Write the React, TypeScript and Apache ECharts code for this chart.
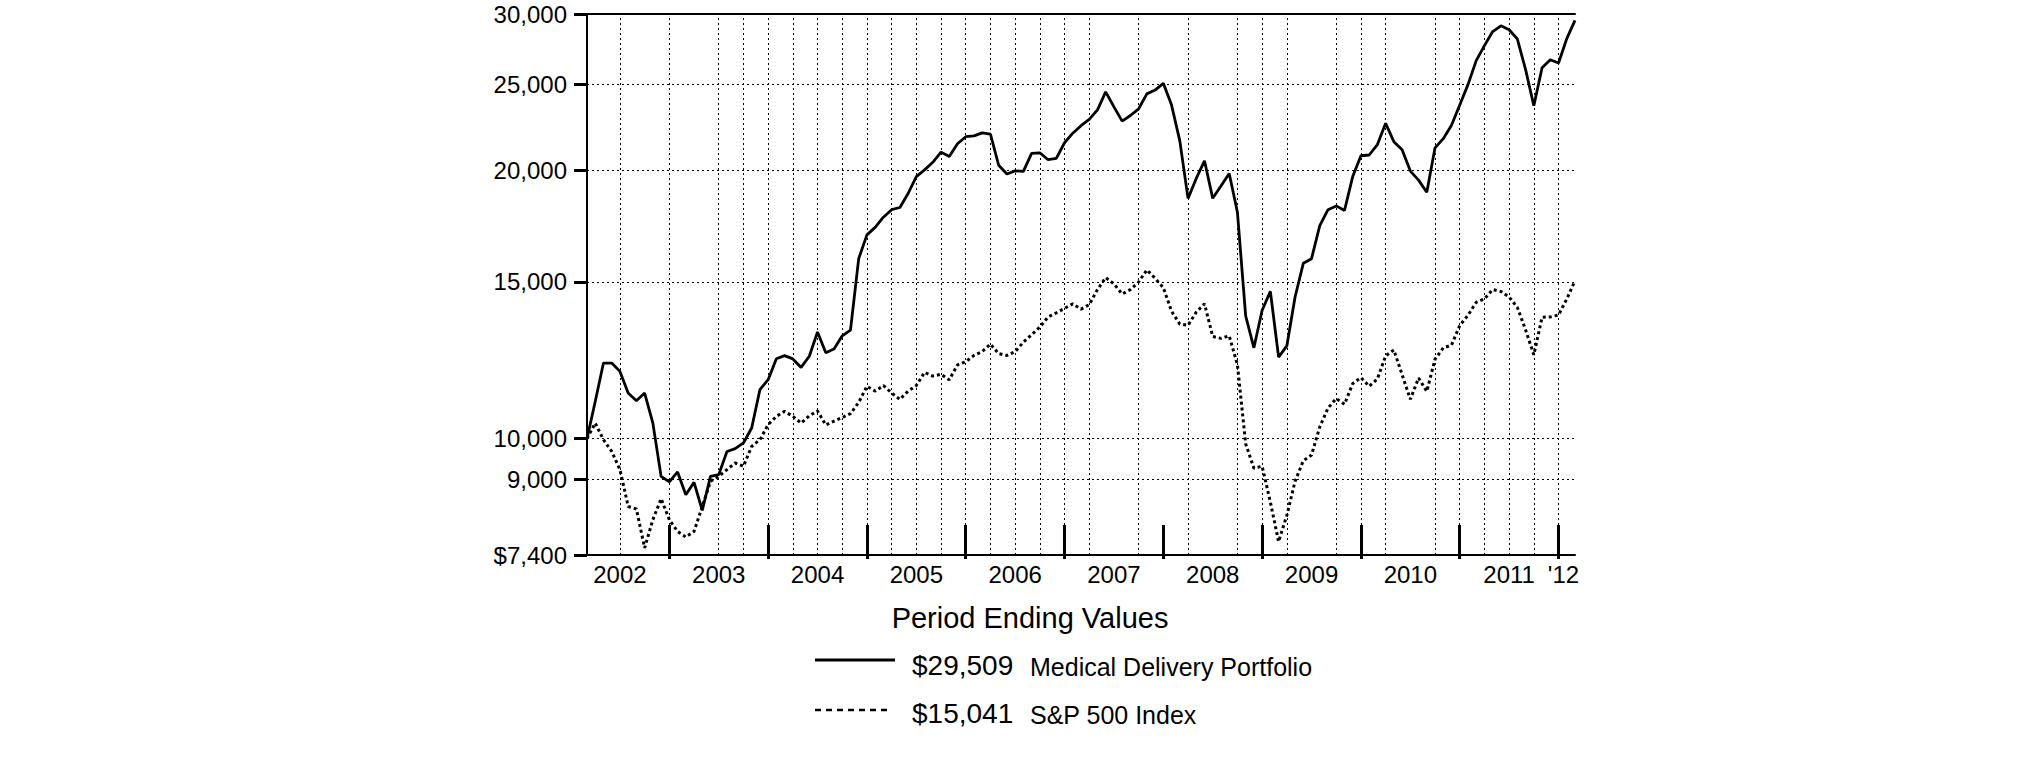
import React, { useEffect, useRef } from "react";
import * as echarts from "echarts";

// Month index 0 = Feb 2002 ... 120 = Feb 2012 (month-end values)
const portfolio = [
  10000, 11010, 12160, 12160, 11900, 11250, 11030, 11250, 10410, 9070,
  8940, 9175, 8650, 8930, 8306, 9070, 9110, 9673, 9743, 9888,
  10278, 11350, 11647, 12297, 12394, 12290, 12023, 12375, 13176, 12490,
  12612, 13048, 13243, 15930, 16940, 17272, 17735, 18080, 18185, 18855,
  19700, 20045, 20440, 20985, 20745, 21445, 21840, 21885, 22060, 21990,
  20285, 19832, 19990, 19970, 20922, 20950, 20577, 20650, 21500, 22040,
  22470, 22845, 23410, 24525, 23590, 22735, 23070, 23475, 24400, 24640,
  25075, 23700, 21605, 18620, 19605, 20520, 18620, 19225, 19855, 17960,
  13740, 12648, 13940, 14635, 12347, 12710, 14425, 15740, 15930, 17355,
  18080, 18260, 18045, 19700, 20790, 20830, 21400, 22610, 21560, 21110,
  19980, 19520, 18920, 21220, 21730, 22500, 23710, 24990, 26590, 27640,
  28670, 29100, 28800, 28120, 25980, 23660, 26110, 26650, 26430, 28150,
  29509,
];

const sp500 = [
  10000, 10410, 9972, 9673, 9230, 8390, 8335, 7537, 8108, 8560,
  8108, 7866, 7752, 7866, 8390, 8953, 9070, 9230, 9389, 9310,
  9800, 9972, 10368, 10593, 10730, 10593, 10410, 10610, 10740, 10358,
  10461, 10561, 10666, 10982, 11452, 11308, 11473, 11253, 11068, 11308,
  11473, 11870, 11757, 11810, 11643, 12103, 12200, 12400, 12525, 12770,
  12460, 12400, 12525, 12832, 13085, 13345, 13700, 13847, 14008, 14173,
  13980, 14144, 14705, 15170, 14920, 14537, 14705, 14997, 15473, 15142,
  14780, 13902, 13448, 13408, 13873, 14173, 13024, 12961, 13048, 12103,
  9867, 9264, 9309, 8486, 7660, 8200, 8953, 9445, 9584, 10308,
  10822, 11092, 10930, 11530, 11710, 11450, 11670, 12390, 12580, 11800,
  11070, 11700, 11300, 12280, 12645, 12735, 13400, 13760, 14230, 14355,
  14705, 14635, 14425, 14040, 13250, 12420, 13690, 13700, 13770, 14350,
  15041,
];

const seriesNames = ["Medical Delivery Portfolio", "S&P 500 Index"];

const yTickValues = [7400, 9000, 10000, 15000, 20000, 25000, 30000];
const yTickLabels = ["$7,400", "9,000", "10,000", "15,000", "20,000", "25,000", "30,000"];

const yearLabels = ["2002", "2003", "2004", "2005", "2006", "2007", "2008", "2009", "2010", "2011", "'12"];
const yearLabelMonths = [4, 16, 28, 40, 52, 64, 76, 88, 100, 112, 118.6];
const yearEndMonths = [10, 22, 34, 46, 58, 70, 82, 94, 106, 118];
const gridMonths = [
  4, 10, 16, 19, 22, 25, 28, 31, 34, 37, 40, 43, 46, 49, 52, 55, 58, 61, 67, 73,
  79, 82, 85, 91, 94, 97, 103, 106, 109, 112, 115, 118,
];

const FONT = "'Liberation Sans', Arial, Helvetica, sans-serif";

export default function App() {
  const ref = useRef<HTMLDivElement>(null);

  useEffect(() => {
    document.body.style.margin = "0";
    if (!ref.current) return;
    const chart = echarts.init(ref.current, undefined, { renderer: "svg" });

    const fmtMoney = (v: number) => "$" + v.toLocaleString("en-US");
    const lastP = portfolio[portfolio.length - 1];
    const lastS = sp500[sp500.length - 1];

    const gridLeft = 587;
    const gridTop = 14;
    const gridW = 988;
    const gridH = 541;

    chart.setOption({
      animation: false,
      backgroundColor: "#fff",
      grid: { left: gridLeft, top: gridTop, width: gridW, height: gridH, containLabel: false },
      xAxis: [
        {
          type: "value",
          min: 0,
          max: 120,
          position: "bottom",
          axisLine: { show: true, onZero: false, lineStyle: { color: "#000", width: 2 } },
          axisTick: {
            show: true,
            inside: true,
            length: 30,
            customValues: yearEndMonths,
            lineStyle: { color: "#000", width: 3 },
          },
          axisLabel: {
            show: true,
            customValues: yearLabelMonths,
            margin: 7,
            color: "#000",
            fontFamily: FONT,
            fontSize: 24,
            formatter: (v: number) => {
              const k = yearLabelMonths.findIndex((m) => Math.abs(m - v) < 1e-6);
              return k >= 0 ? yearLabels[k] : "";
            },
          },
          splitLine: { show: false },
        },
        {
          type: "value",
          min: 0,
          max: 120,
          position: "top",
          axisLine: { show: true, onZero: false, lineStyle: { color: "#000", width: 2 } },
          axisTick: { show: false },
          axisLabel: { show: false },
          splitLine: { show: false },
        },
        {
          type: "value",
          min: 0,
          max: 120,
          position: "bottom",
          axisLine: { show: false, onZero: false },
          axisTick: {
            show: true,
            inside: false,
            length: 4,
            customValues: yearEndMonths,
            lineStyle: { color: "#000", width: 3 },
          },
          axisLabel: { show: false },
          splitLine: { show: false },
        },
      ],
      yAxis: {
        type: "log",
        logBase: 10,
        min: 7400,
        max: 30000,
        axisLine: { show: true, onZero: false, lineStyle: { color: "#000", width: 2 } },
        axisTick: {
          show: true,
          inside: false,
          length: 13,
          customValues: yTickValues,
          lineStyle: { color: "#000", width: 3 },
        },
        axisLabel: {
          show: true,
          customValues: yTickValues,
          margin: 20,
          color: "#000",
          fontFamily: FONT,
          fontSize: 24,
          formatter: (v: number) => {
            const k = yTickValues.findIndex((t) => Math.abs(t - v) < 0.5);
            return k >= 0 ? yTickLabels[k] : "";
          },
        },
        splitLine: {
          show: true,
          lineStyle: { color: "#000", width: 1, type: [2, 3] },
        },
      },
      series: [
        {
          name: seriesNames[0],
          type: "line",
          xAxisIndex: 0,
          data: portfolio.map((v, i) => [i, v]),
          showSymbol: false,
          symbol: "none",
          lineStyle: { color: "#000", width: 2.8 },
          z: 5,
          markLine: {
            silent: true,
            symbol: ["none", "none"],
            label: { show: false },
            lineStyle: { color: "#000", width: 1, type: [2, 3] },
            emphasis: { disabled: true },
            data: gridMonths.map((m) => ({ xAxis: m })),
            z: 1,
          },
        },
        {
          name: seriesNames[1],
          type: "line",
          xAxisIndex: 0,
          data: sp500.map((v, i) => [i, v]),
          showSymbol: false,
          symbol: "none",
          lineStyle: { color: "#000", width: 3, type: [3, 3] },
          z: 4,
        },
      ],
      graphic: [
        {
          type: "text",
          x: 1030,
          y: 618,
          style: {
            text: "Period Ending Values",
            font: `29px ${FONT}`,
            fill: "#000",
            align: "center",
            verticalAlign: "middle",
          },
        },
        {
          type: "line",
          shape: { x1: 815, y1: 660, x2: 895, y2: 660 },
          style: { stroke: "#000", lineWidth: 3 },
        },
        {
          type: "text",
          x: 912,
          y: 665,
          style: { text: fmtMoney(lastP), font: `28px ${FONT}`, fill: "#000", align: "left", verticalAlign: "middle" },
        },
        {
          type: "text",
          x: 1030,
          y: 667,
          style: { text: seriesNames[0], font: `25px ${FONT}`, fill: "#000", align: "left", verticalAlign: "middle" },
        },
        {
          type: "line",
          shape: { x1: 815, y1: 710, x2: 892, y2: 710 },
          style: { stroke: "#000", lineWidth: 2.5, lineDash: [6, 5] },
        },
        {
          type: "text",
          x: 912,
          y: 713,
          style: { text: fmtMoney(lastS), font: `28px ${FONT}`, fill: "#000", align: "left", verticalAlign: "middle" },
        },
        {
          type: "text",
          x: 1030,
          y: 715,
          style: { text: seriesNames[1], font: `25px ${FONT}`, fill: "#000", align: "left", verticalAlign: "middle" },
        },
      ],
    });

    return () => {
      chart.dispose();
    };
  }, []);

  return <div ref={ref} style={{ width: 2025, height: 761 }} />;
}
